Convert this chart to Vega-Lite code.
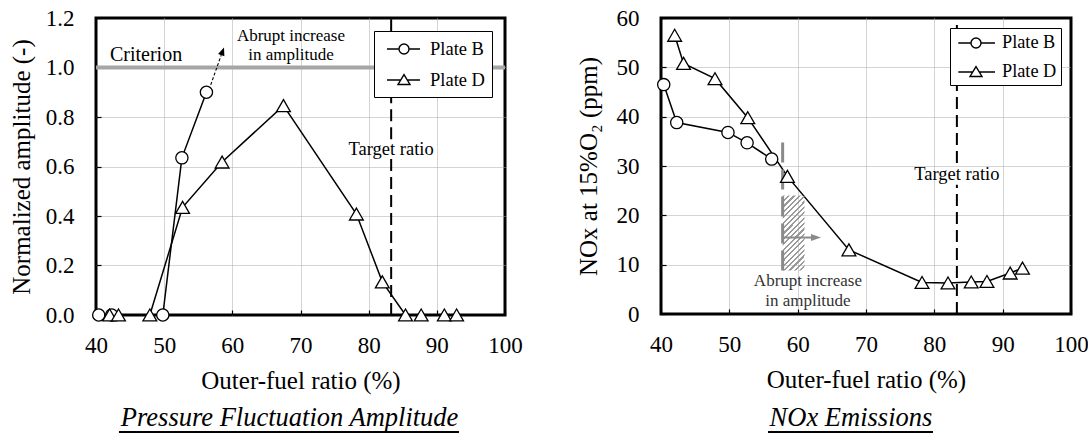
{
  "$schema": "https://vega.github.io/schema/vega-lite/v6.json",
  "padding": {"left": 7, "top": 5, "right": 0, "bottom": 0},
  "spacing": 50,
  "config": {
    "font": "Liberation Serif",
    "view": {"stroke": "black", "strokeWidth": 3},
    "axis": {
      "labelFont": "Liberation Serif", "titleFont": "Liberation Serif",
      "labelFontSize": 23, "titleFontSize": 25, "titleFontWeight": "normal",
      "labelColor": "black", "titleColor": "black",
      "domain": false, "ticks": true, "tickSize": -5, "tickColor": "black", "tickWidth": 1.2,
      "grid": true, "gridDash": [1, 1], "gridWidth": 1
    },
    "axisX": {"labelFlush": false, "labelPadding": 24, "titlePadding": 11, "labelAngle": 0},
    "axisY": {"labelPadding": 27, "titlePadding": 11},
    "legend": {"labelFont": "Liberation Serif", "titleFont": "Liberation Serif"},
    "text": {"font": "Liberation Serif", "color": "black"}
  },
  "datasets": {
    "amp": [
      {"plate": "Plate B", "ratio": 40.4, "amp": 0},
      {"plate": "Plate B", "ratio": 42.3, "amp": 0},
      {"plate": "Plate B", "ratio": 49.8, "amp": 0},
      {"plate": "Plate B", "ratio": 52.6, "amp": 0.635},
      {"plate": "Plate B", "ratio": 56.2, "amp": 0.9},
      {"plate": "Plate D", "ratio": 42.0, "amp": 0},
      {"plate": "Plate D", "ratio": 43.3, "amp": 0},
      {"plate": "Plate D", "ratio": 47.9, "amp": 0},
      {"plate": "Plate D", "ratio": 52.7, "amp": 0.435},
      {"plate": "Plate D", "ratio": 58.5, "amp": 0.618},
      {"plate": "Plate D", "ratio": 67.5, "amp": 0.846},
      {"plate": "Plate D", "ratio": 78.2, "amp": 0.408},
      {"plate": "Plate D", "ratio": 82.0, "amp": 0.134},
      {"plate": "Plate D", "ratio": 85.4, "amp": 0},
      {"plate": "Plate D", "ratio": 87.7, "amp": 0},
      {"plate": "Plate D", "ratio": 91.1, "amp": 0},
      {"plate": "Plate D", "ratio": 92.9, "amp": 0}
    ],
    "nox": [
      {"plate": "Plate B", "ratio": 40.4, "nox": 46.5},
      {"plate": "Plate B", "ratio": 42.3, "nox": 38.8},
      {"plate": "Plate B", "ratio": 49.8, "nox": 36.8},
      {"plate": "Plate B", "ratio": 52.6, "nox": 34.7},
      {"plate": "Plate B", "ratio": 56.2, "nox": 31.4},
      {"plate": "Plate D", "ratio": 42.0, "nox": 56.5},
      {"plate": "Plate D", "ratio": 43.3, "nox": 50.8},
      {"plate": "Plate D", "ratio": 47.9, "nox": 47.7},
      {"plate": "Plate D", "ratio": 52.7, "nox": 39.8},
      {"plate": "Plate D", "ratio": 58.5, "nox": 27.9},
      {"plate": "Plate D", "ratio": 67.5, "nox": 13.0},
      {"plate": "Plate D", "ratio": 78.2, "nox": 6.4},
      {"plate": "Plate D", "ratio": 82.0, "nox": 6.3},
      {"plate": "Plate D", "ratio": 85.4, "nox": 6.5},
      {"plate": "Plate D", "ratio": 87.7, "nox": 6.6},
      {"plate": "Plate D", "ratio": 91.1, "nox": 8.3},
      {"plate": "Plate D", "ratio": 92.9, "nox": 9.3}
    ]
  },
  "hconcat": [
    {
      "width": 409,
      "height": 297,
      "data": {"name": "amp"},
      "resolve": {"scale": {"shape": "independent", "size": "independent"}},
      "layer": [
        {
          "mark": {"type": "line", "color": "black", "strokeWidth": 1.5},
          "encoding": {
            "x": {"field": "ratio", "type": "quantitative", "scale": {"domain": [40, 100], "nice": false}, "title": "Outer-fuel ratio (%)",
                  "axis": {"values": [40, 50, 60, 70, 80, 90, 100],
                           "gridColor": {"condition": {"test": "datum.value <= 40 || datum.value >= 100", "value": "rgba(0,0,0,0)"}, "value": "#a8a8a8"}}},
            "y": {"field": "amp", "type": "quantitative", "scale": {"domain": [0, 1.2], "nice": false}, "title": "Normalized amplitude (-)",
                  "axis": {"values": [0, 0.2, 0.4, 0.6, 0.8, 1.0, 1.2], "format": ".1f",
                           "gridColor": {"condition": {"test": "datum.value <= 0 || datum.value >= 1.19", "value": "rgba(0,0,0,0)"}, "value": "#a8a8a8"}}},
            "detail": {"field": "plate"}
          }
        },
        {
          "data": {"values": [{}]},
          "mark": {"type": "rule", "color": "#a6a6a6", "strokeWidth": 4},
          "encoding": {"y": {"datum": 1, "type": "quantitative"}}
        },
        {
          "data": {"values": [{}]},
          "mark": {"type": "rule", "color": "black", "strokeWidth": 2, "strokeDash": [12, 6]},
          "encoding": {"x": {"datum": 83.3, "type": "quantitative"}, "y": {"datum": 0, "type": "quantitative"}, "y2": {"datum": 0.63}}
        },
        {
          "data": {"values": [{}]},
          "mark": {"type": "rule", "color": "black", "strokeWidth": 2, "strokeDash": [12, 6]},
          "encoding": {"x": {"datum": 83.3, "type": "quantitative"}, "y": {"datum": 0.71, "type": "quantitative"}, "y2": {"datum": 1.2}}
        },
        {
          "data": {"values": [{}]},
          "mark": {"type": "rule", "color": "black", "strokeWidth": 1.1, "strokeDash": [3, 2]},
          "encoding": {"x": {"datum": 56.83, "type": "quantitative"}, "y": {"datum": 0.93, "type": "quantitative"}, "x2": {"datum": 58.37}, "y2": {"datum": 1.05}}
        },
        {
          "data": {"values": [{}]},
          "mark": {"type": "point", "shape": "M0,-1L0.75,0.8L-0.75,0.8Z", "size": 81, "angle": 20, "filled": true, "color": "black", "opacity": 1},
          "encoding": {"x": {"datum": 58.55, "type": "quantitative"}, "y": {"datum": 1.064, "type": "quantitative"}}
        },
        {
          "mark": {"type": "point", "filled": true, "fill": "white", "stroke": "black", "strokeWidth": 1.3, "opacity": 1},
          "encoding": {
            "x": {"field": "ratio", "type": "quantitative"},
            "y": {"field": "amp", "type": "quantitative"},
            "shape": {"field": "plate", "type": "nominal", "scale": {"domain": ["Plate B", "Plate D"], "range": ["circle", "triangle-up"]}, "legend": null},
            "size": {"field": "plate", "type": "nominal", "scale": {"domain": ["Plate B", "Plate D"], "range": [150, 190]}, "legend": null}
          }
        },
        {
          "transform": [{"filter": "false"}],
          "mark": {"type": "point", "filled": false, "color": "black", "stroke": "black", "strokeWidth": 1.4, "opacity": 1},
          "encoding": {
            "x": {"field": "ratio", "type": "quantitative"},
            "y": {"field": "amp", "type": "quantitative"},
            "shape": {"field": "plate", "type": "nominal",
              "scale": {"domain": ["Plate B", "Plate D"], "range": ["M-0.5,0H0.7M1.7,0H2.8M1.7,0A0.5,0.5 0 1,1 0.7,0A0.5,0.5 0 1,1 1.7,0Z", "M-0.5,0H0.87M1.53,0H2.8M1.2,-0.54L0.6,0.45L1.8,0.45Z"]},
              "legend": {"title": null, "orient": "top-right", "offset": 13, "padding": 7, "rowPadding": 10,
                "fillColor": "white", "strokeColor": "black", "cornerRadius": 0,
                "symbolSize": 400, "symbolStrokeWidth": 1.4, "symbolStrokeColor": "black", "symbolOpacity": 1,
                "labelFont": "Liberation Serif", "labelFontSize": 18.5, "labelColor": "black", "labelOffset": 27,
                "encode": {"legend": {"update": {"strokeWidth": {"value": 1.5}}},
                           "labels": {"update": {"font": {"value": "Liberation Serif"}}},
                           "symbols": {"update": {"stroke": {"value": "black"}, "strokeWidth": {"value": 1.4}, "opacity": {"value": 1}}}}}}
          }
        },
        {
          "data": {"values": [{}]},
          "mark": {"type": "text", "text": "Criterion", "align": "left", "baseline": "middle", "fontSize": 20, "font": "Liberation Serif"},
          "encoding": {"x": {"datum": 42.05, "type": "quantitative"}, "y": {"datum": 1.052, "type": "quantitative"}}
        },
        {
          "data": {"values": [{}]},
          "mark": {"type": "text", "text": ["Abrupt increase", "in amplitude"], "align": "center", "baseline": "middle", "fontSize": 17, "lineHeight": 19, "font": "Liberation Serif"},
          "encoding": {"x": {"datum": 68.6, "type": "quantitative"}, "y": {"datum": 1.128, "type": "quantitative"}}
        },
        {
          "data": {"values": [{}]},
          "mark": {"type": "text", "text": "Target ratio", "align": "center", "baseline": "middle", "fontSize": 18.5, "font": "Liberation Serif"},
          "encoding": {"x": {"datum": 83.3, "type": "quantitative"}, "y": {"datum": 0.672, "type": "quantitative"}}
        },
        {
          "data": {"values": [{}]},
          "mark": {"type": "text", "text": "Pressure Fluctuation Amplitude", "align": "center", "baseline": "alphabetic", "fontSize": 26.5, "fontStyle": "italic", "font": "Liberation Serif"},
          "encoding": {"x": {"datum": 68.4, "type": "quantitative"}, "y": {"datum": -0.4485, "type": "quantitative"}}
        },
        {
          "data": {"values": [{}]},
          "mark": {"type": "rule", "color": "black", "strokeWidth": 2},
          "encoding": {"x": {"datum": 43.37, "type": "quantitative"}, "x2": {"datum": 93.25}, "y": {"datum": -0.4727, "type": "quantitative"}}
        }
      ]
    },
    {
      "width": 410,
      "height": 296,
      "data": {"name": "nox"},
      "resolve": {"scale": {"shape": "independent", "size": "independent"}},
      "layer": [
        {
          "mark": {"type": "line", "color": "black", "strokeWidth": 1.5},
          "encoding": {
            "x": {"field": "ratio", "type": "quantitative", "scale": {"domain": [40, 100], "nice": false}, "title": "Outer-fuel ratio (%)",
                  "axis": {"values": [40, 50, 60, 70, 80, 90, 100],
                           "gridColor": {"condition": {"test": "datum.value <= 40 || datum.value >= 100", "value": "rgba(0,0,0,0)"}, "value": "#a8a8a8"}}},
            "y": {"field": "nox", "type": "quantitative", "scale": {"domain": [0, 60], "nice": false}, "title": "NOx at 15%O₂ (ppm)",
                  "axis": {"values": [0, 10, 20, 30, 40, 50, 60], "format": "d", "titlePadding": 15,
                           "gridColor": {"condition": {"test": "datum.value <= 0 || datum.value >= 60", "value": "rgba(0,0,0,0)"}, "value": "#a8a8a8"}}},
            "detail": {"field": "plate"}
          }
        },
        {
          "data": {"values": [{}]},
          "mark": {"type": "rule", "color": "black", "strokeWidth": 2, "strokeDash": [12, 6]},
          "encoding": {"x": {"datum": 83.3, "type": "quantitative"}, "y": {"datum": 0, "type": "quantitative"}, "y2": {"datum": 26.2}}
        },
        {
          "data": {"values": [{}]},
          "mark": {"type": "rule", "color": "black", "strokeWidth": 2, "strokeDash": [12, 6]},
          "encoding": {"x": {"datum": 83.3, "type": "quantitative"}, "y": {"datum": 30.6, "type": "quantitative"}, "y2": {"datum": 60}}
        },
        {
          "data": {"values": [{}]},
          "mark": {"type": "rect", "fill": {
            "gradient": "linear", "x1": 0, "y1": 0, "x2": 0.35, "y2": 1.19,
            "stops": [
              {"offset": 0, "color": "#9a9a9a"}, {"offset": 0.0222, "color": "#9a9a9a"}, {"offset": 0.0222, "color": "rgba(255,255,255,0)"}, {"offset": 0.0556, "color": "rgba(255,255,255,0)"},
              {"offset": 0.0556, "color": "#9a9a9a"}, {"offset": 0.0778, "color": "#9a9a9a"}, {"offset": 0.0778, "color": "rgba(255,255,255,0)"}, {"offset": 0.1111, "color": "rgba(255,255,255,0)"},
              {"offset": 0.1111, "color": "#9a9a9a"}, {"offset": 0.1333, "color": "#9a9a9a"}, {"offset": 0.1333, "color": "rgba(255,255,255,0)"}, {"offset": 0.1667, "color": "rgba(255,255,255,0)"},
              {"offset": 0.1667, "color": "#9a9a9a"}, {"offset": 0.1889, "color": "#9a9a9a"}, {"offset": 0.1889, "color": "rgba(255,255,255,0)"}, {"offset": 0.2222, "color": "rgba(255,255,255,0)"},
              {"offset": 0.2222, "color": "#9a9a9a"}, {"offset": 0.2444, "color": "#9a9a9a"}, {"offset": 0.2444, "color": "rgba(255,255,255,0)"}, {"offset": 0.2778, "color": "rgba(255,255,255,0)"},
              {"offset": 0.2778, "color": "#9a9a9a"}, {"offset": 0.3, "color": "#9a9a9a"}, {"offset": 0.3, "color": "rgba(255,255,255,0)"}, {"offset": 0.3333, "color": "rgba(255,255,255,0)"},
              {"offset": 0.3333, "color": "#9a9a9a"}, {"offset": 0.3556, "color": "#9a9a9a"}, {"offset": 0.3556, "color": "rgba(255,255,255,0)"}, {"offset": 0.3889, "color": "rgba(255,255,255,0)"},
              {"offset": 0.3889, "color": "#9a9a9a"}, {"offset": 0.4111, "color": "#9a9a9a"}, {"offset": 0.4111, "color": "rgba(255,255,255,0)"}, {"offset": 0.4444, "color": "rgba(255,255,255,0)"},
              {"offset": 0.4444, "color": "#9a9a9a"}, {"offset": 0.4667, "color": "#9a9a9a"}, {"offset": 0.4667, "color": "rgba(255,255,255,0)"}, {"offset": 0.5, "color": "rgba(255,255,255,0)"},
              {"offset": 0.5, "color": "#9a9a9a"}, {"offset": 0.5222, "color": "#9a9a9a"}, {"offset": 0.5222, "color": "rgba(255,255,255,0)"}, {"offset": 0.5556, "color": "rgba(255,255,255,0)"},
              {"offset": 0.5556, "color": "#9a9a9a"}, {"offset": 0.5778, "color": "#9a9a9a"}, {"offset": 0.5778, "color": "rgba(255,255,255,0)"}, {"offset": 0.6111, "color": "rgba(255,255,255,0)"},
              {"offset": 0.6111, "color": "#9a9a9a"}, {"offset": 0.6333, "color": "#9a9a9a"}, {"offset": 0.6333, "color": "rgba(255,255,255,0)"}, {"offset": 0.6667, "color": "rgba(255,255,255,0)"},
              {"offset": 0.6667, "color": "#9a9a9a"}, {"offset": 0.6889, "color": "#9a9a9a"}, {"offset": 0.6889, "color": "rgba(255,255,255,0)"}, {"offset": 0.7222, "color": "rgba(255,255,255,0)"},
              {"offset": 0.7222, "color": "#9a9a9a"}, {"offset": 0.7444, "color": "#9a9a9a"}, {"offset": 0.7444, "color": "rgba(255,255,255,0)"}, {"offset": 0.7778, "color": "rgba(255,255,255,0)"},
              {"offset": 0.7778, "color": "#9a9a9a"}, {"offset": 0.8, "color": "#9a9a9a"}, {"offset": 0.8, "color": "rgba(255,255,255,0)"}, {"offset": 0.8333, "color": "rgba(255,255,255,0)"},
              {"offset": 0.8333, "color": "#9a9a9a"}, {"offset": 0.8556, "color": "#9a9a9a"}, {"offset": 0.8556, "color": "rgba(255,255,255,0)"}, {"offset": 0.8889, "color": "rgba(255,255,255,0)"},
              {"offset": 0.8889, "color": "#9a9a9a"}, {"offset": 0.9111, "color": "#9a9a9a"}, {"offset": 0.9111, "color": "rgba(255,255,255,0)"}, {"offset": 0.9444, "color": "rgba(255,255,255,0)"},
              {"offset": 0.9444, "color": "#9a9a9a"}, {"offset": 0.9667, "color": "#9a9a9a"}, {"offset": 0.9667, "color": "rgba(255,255,255,0)"}, {"offset": 1, "color": "rgba(255,255,255,0)"}
            ]}},
          "encoding": {"x": {"datum": 57.8, "type": "quantitative"}, "x2": {"datum": 61.0}, "y": {"datum": 8.8, "type": "quantitative"}, "y2": {"datum": 24.0}}
        },
        {
          "data": {"values": [{}]},
          "mark": {"type": "rule", "color": "#8a8a8a", "strokeWidth": 3, "strokeDash": [20, 7]},
          "encoding": {"x": {"datum": 57.8, "type": "quantitative"}, "y": {"datum": 8.8, "type": "quantitative"}, "y2": {"datum": 35.4}}
        },
        {
          "data": {"values": [{}]},
          "mark": {"type": "rule", "color": "#8a8a8a", "strokeWidth": 2},
          "encoding": {"x": {"datum": 57.9, "type": "quantitative"}, "x2": {"datum": 62.0}, "y": {"datum": 15.5, "type": "quantitative"}}
        },
        {
          "data": {"values": [{}]},
          "mark": {"type": "point", "shape": "M-1,-0.7L1,0L-1,0.7Z", "size": 100, "filled": true, "color": "#8a8a8a", "opacity": 1},
          "encoding": {"x": {"datum": 62.68, "type": "quantitative"}, "y": {"datum": 15.5, "type": "quantitative"}}
        },
        {
          "mark": {"type": "point", "filled": true, "fill": "white", "stroke": "black", "strokeWidth": 1.3, "opacity": 1},
          "encoding": {
            "x": {"field": "ratio", "type": "quantitative"},
            "y": {"field": "nox", "type": "quantitative"},
            "shape": {"field": "plate", "type": "nominal", "scale": {"domain": ["Plate B", "Plate D"], "range": ["circle", "triangle-up"]}, "legend": null},
            "size": {"field": "plate", "type": "nominal", "scale": {"domain": ["Plate B", "Plate D"], "range": [150, 190]}, "legend": null}
          }
        },
        {
          "transform": [{"filter": "false"}],
          "mark": {"type": "point", "filled": false, "color": "black", "stroke": "black", "strokeWidth": 1.4, "opacity": 1},
          "encoding": {
            "x": {"field": "ratio", "type": "quantitative"},
            "y": {"field": "nox", "type": "quantitative"},
            "shape": {"field": "plate", "type": "nominal",
              "scale": {"domain": ["Plate B", "Plate D"], "range": ["M-0.67,0H0.6M1.6,0H3M1.6,0A0.5,0.5 0 1,1 0.6,0A0.5,0.5 0 1,1 1.6,0Z", "M-0.67,0H0.77M1.43,0H3M1.1,-0.54L0.5,0.45L1.7,0.45Z"]},
              "legend": {"title": null, "orient": "top-right", "offset": 10, "padding": 4, "rowPadding": 9,
                "fillColor": "white", "strokeColor": "black", "cornerRadius": 0,
                "symbolSize": 400, "symbolStrokeWidth": 1.4, "symbolStrokeColor": "black", "symbolOpacity": 1,
                "labelFont": "Liberation Serif", "labelFontSize": 18.3, "labelColor": "black", "labelOffset": 26,
                "encode": {"legend": {"update": {"strokeWidth": {"value": 1.5}}},
                           "labels": {"update": {"font": {"value": "Liberation Serif"}}},
                           "symbols": {"update": {"stroke": {"value": "black"}, "strokeWidth": {"value": 1.4}, "opacity": {"value": 1}}}}}}
          }
        },
        {
          "data": {"values": [{}]},
          "mark": {"type": "text", "text": ["Abrupt increase", "in amplitude"], "align": "center", "baseline": "middle", "fontSize": 17, "lineHeight": 20, "color": "#333333", "font": "Liberation Serif"},
          "encoding": {"x": {"datum": 61.5, "type": "quantitative"}, "y": {"datum": 6.6, "type": "quantitative"}}
        },
        {
          "data": {"values": [{}]},
          "mark": {"type": "text", "text": "Target ratio", "align": "center", "baseline": "middle", "fontSize": 18.5, "font": "Liberation Serif"},
          "encoding": {"x": {"datum": 83.3, "type": "quantitative"}, "y": {"datum": 28.4, "type": "quantitative"}}
        },
        {
          "data": {"values": [{}]},
          "mark": {"type": "text", "text": "NOx Emissions", "align": "center", "baseline": "alphabetic", "fontSize": 26.5, "fontStyle": "italic", "font": "Liberation Serif"},
          "encoding": {"x": {"datum": 67.8, "type": "quantitative"}, "y": {"datum": -22.7, "type": "quantitative"}}
        },
        {
          "data": {"values": [{}]},
          "mark": {"type": "rule", "color": "black", "strokeWidth": 2},
          "encoding": {"x": {"datum": 55.66, "type": "quantitative"}, "x2": {"datum": 79.8}, "y": {"datum": -23.92, "type": "quantitative"}}
        }
      ]
    }
  ]
}
